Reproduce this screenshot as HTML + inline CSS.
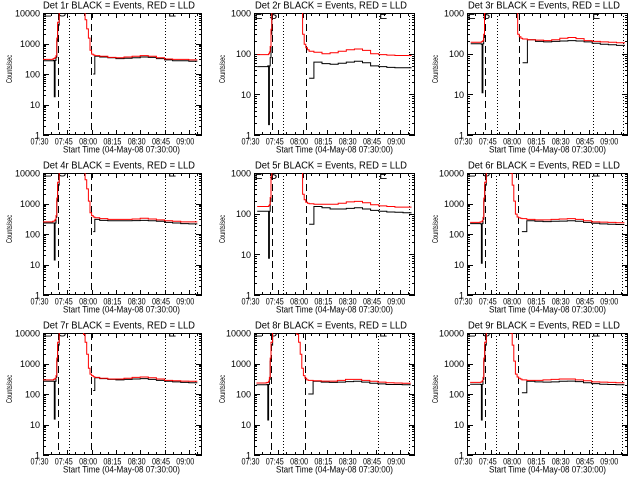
<!DOCTYPE html>
<html><head><meta charset="utf-8"><title>Detector rates</title>
<style>
html,body{margin:0;padding:0;background:#fff;}
svg{display:block;font-family:"Liberation Sans",sans-serif;}
</style></head>
<body>
<svg id="fig" width="640" height="480" viewBox="0 0 640 480" xmlns="http://www.w3.org/2000/svg">
<rect x="0" y="0" width="640" height="480" fill="#fff"/>
</svg>
<script>
// ---- data ----
const times = [0,3,6,6.5,7,7.5,8,8.5,9,10,23,24,25,26,27,28,29,30,31,32,35,40,45,50,55,60,65,70,75,80,85,90,94];
const detNames = ["1r","2r","3r","4r","5r","6r","7r","8r","9r"];
const timeShift = [0,2,2.3,0,2,1.9,0,1.5,1.9];
const yMaxes = [10000,1000,1000,10000,1000,10000,10000,10000,10000];
const xTickLabels = ["07:30","07:45","08:00","08:15","08:30","08:45","09:00"];
const xTickMinutes = [0,15,30,45,60,75,90];
const dashedTimes = [9,29.8];
const dottedTimes = [16.2,75.3,93.9];
const markerLabels = ["E","S","E"];
const markerTimes = [0.3,9.4,77.2];
const _ = null;
const red1 = [300,300,310,320,330,350,400,1500,5000,20000,20000,20000,12000,6000,3000,1500,600,450,420,400,380,350,340,360,380,400,380,340,310,300,300,290,290];
const black1 = [270,270,270,280,18,280,350,1200,4000,20000,_,_,_,_,_,_,_,_,100,380,360,340,320,330,340,360,350,320,290,270,270,260,260];
const red2 = [95,95,95,95,100,110,150,400,1500,5000,5000,5000,5000,5000,5000,300,170,140,125,115,108,100,105,115,125,130,120,100,95,92,90,90,90];
const black2 = [48,48,48,50,1.8,50,80,300,1000,5000,_,_,_,_,_,_,_,_,_,25,62,57,55,58,62,65,60,50,48,46,45,45,45];
const red3 = [190,190,190,195,200,210,300,1000,3000,5000,5000,5000,5000,5000,5000,5000,300,260,240,230,220,215,210,220,240,250,235,210,200,195,190,185,185];
const black3 = [175,175,175,170,11,175,250,800,3000,5000,_,_,_,_,_,_,_,_,_,60,220,200,195,200,205,210,205,195,180,170,165,160,160];
const red4 = [250,250,260,260,270,300,400,1500,5000,20000,20000,20000,12000,6000,3000,1200,500,400,360,340,320,300,300,300,310,330,310,290,270,260,250,250,250];
const black4 = [230,230,230,230,14,230,350,1200,4000,20000,_,_,_,_,_,_,_,_,120,300,280,270,270,270,275,280,270,260,240,230,220,215,215];
const red5 = [150,150,150,150,155,165,250,800,3000,5000,5000,5000,5000,5000,5000,300,220,190,180,175,170,170,170,180,195,200,185,165,155,150,145,145,145];
const black5 = [115,115,115,115,8,115,200,700,3000,5000,_,_,_,_,_,_,_,_,_,55,150,140,130,130,135,140,130,120,115,110,108,105,105];
const red6 = [240,240,245,250,250,270,350,1500,5000,20000,20000,20000,10000,4000,1200,450,360,340,330,320,300,290,290,300,310,320,300,270,250,245,240,235,235];
const black6 = [220,220,220,215,11,220,300,1200,4000,20000,_,_,_,_,_,_,_,_,_,120,270,260,255,260,265,270,260,240,225,215,210,205,205];
const red7 = [290,290,290,300,310,330,400,1500,5000,20000,20000,15000,9000,5000,2000,700,450,400,370,350,330,310,310,330,350,360,340,310,280,270,265,260,260];
const black7 = [260,260,260,260,15,260,350,1200,4000,20000,_,_,_,_,_,_,_,_,130,340,320,300,290,300,310,320,300,280,260,250,240,235,235];
const red8 = [230,230,235,240,240,260,350,1500,5000,20000,20000,15000,9000,5000,2000,700,400,330,290,280,270,265,265,280,300,300,280,260,245,235,230,225,225];
const black8 = [200,200,200,205,14,205,300,1200,4000,20000,_,_,_,_,_,_,_,_,_,100,260,245,240,245,255,260,245,225,215,205,205,200,200];
const red9 = [240,240,240,245,250,270,350,1500,5000,20000,20000,20000,10000,4000,1200,450,360,330,310,290,280,280,290,300,310,310,290,270,250,245,240,235,235];
const black9 = [210,210,210,205,14,210,300,1200,4000,20000,_,_,_,_,_,_,_,_,_,110,260,250,245,250,260,265,255,235,220,210,205,200,200];
const redSeries = [red1,red2,red3,red4,red5,red6,red7,red8,red9];
const blackSeries = [black1,black2,black3,black4,black5,black6,black7,black8,black9];

const NS = "http://www.w3.org/2000/svg";
const svg = document.getElementById('fig');
function mk(tag, attrs, parent){
  const el = document.createElementNS(NS, tag);
  for (const k in attrs) el.setAttribute(k, attrs[k]);
  parent.appendChild(el);
  return el;
}
const PXMIN = 24.3/15;
const TOP = 13, BOT = 135, RIGHT = 202;

for (let p = 0; p < 9; p++) {
  const col = p % 3, row = Math.floor(p / 3);
  const ox = col * 213, oy = row * 160;
  const L = col === 0 ? 43 : 41;
  const ymax = yMaxes[p];
  const dec = Math.log10(ymax);
  const xs = t => L + (t + timeShift[p]) * PXMIN;
  const xa = m => L + m * PXMIN;
  const ys = v => BOT - Math.log10(v) / dec * (BOT - TOP);

  const g = mk('g', {transform: `translate(${ox},${oy})`}, svg);
  
  

  const cp = mk('clipPath', {id: 'clip' + p}, g);
  mk('rect', {x: L, y: TOP, width: RIGHT - L, height: BOT - TOP}, cp);

  const title = mk('text', {x: (L + 195) / 2, y: 8.5, 'font-size': 10, 'text-anchor': 'middle', textLength: 152, lengthAdjust: 'spacingAndGlyphs'}, g);
  title.textContent = 'Det ' + detNames[p] + ' BLACK = Events, RED = LLD';
  
  

  const yt = mk('text', {x: 0, y: 0, 'font-size': 8, 'text-anchor': 'middle', transform: `translate(12,69) rotate(-90)`, textLength: 28, lengthAdjust: 'spacingAndGlyphs'}, g);
  yt.textContent = 'Counts/sec';
  
  

  const xt = mk('text', {x: 121.5, y: 152.5, 'font-size': 9.5, 'text-anchor': 'middle', textLength: 117, lengthAdjust: 'spacingAndGlyphs'}, g);
  xt.textContent = 'Start Time (04-May-08 07:30:00)';
  
  

  const frame = mk('rect', {x: L + 0.5, y: TOP + 0.5, width: RIGHT - L - 1, height: BOT - TOP - 1, fill: 'none', stroke: '#000', 'stroke-width': 1, 'shape-rendering': 'crispEdges'}, g);
  
  

  let tk = '';
  for (let d = 0; d <= dec; d++) {
    const v = Math.pow(10, d);
    const y = Math.round(ys(v)) + 0.5;
    tk += `M${L} ${y}h6M${RIGHT} ${y}h-6`;
    const lab = mk('text', {x: L - 3, y: ys(v) + 3.5, 'font-size': 9, 'text-anchor': 'end'}, g);
    lab.textContent = String(v);
    
    
    if (d < dec) for (let m = 2; m <= 9; m++) {
      const ym = Math.round(ys(v * m)) + 0.5;
      tk += `M${L} ${ym}h3M${RIGHT} ${ym}h-3`;
    }
  }
  for (let i = 0; i < xTickMinutes.length; i++) {
    const x = Math.round(xa(xTickMinutes[i])) + 0.5;
    tk += `M${x} ${BOT}v-5M${x} ${TOP}v5`;
    const lab = mk('text', {x: xa(xTickMinutes[i]) - 3.5, y: 144.5, 'font-size': 9, 'text-anchor': 'middle', textLength: 18, lengthAdjust: 'spacingAndGlyphs'}, g);
    lab.textContent = xTickLabels[i];
    
    
  }
  for (let m = 5; m < 97; m += 5) {
    if (m % 15 === 0) continue;
    const x = Math.round(xa(m)) + 0.5;
    if (x >= RIGHT) break;
    tk += `M${x} ${BOT}v-3M${x} ${TOP}v3`;
  }
  const ticks = mk('path', {d: tk, stroke: '#000', 'stroke-width': 1, fill: 'none'}, g);
  
  

  const inner = mk('g', {'clip-path': `url(#clip${p})`}, g);

  dashedTimes.forEach(t => {
    const x = Math.round(xs(t)) + 0.5;
    const ln = mk('line', {x1: x, x2: x, y1: TOP, y2: BOT, stroke: '#000', 'stroke-width': 1, 'stroke-dasharray': '7,4', 'shape-rendering': 'crispEdges'}, inner);
    
    
  });
  dottedTimes.forEach(t => {
    const x = Math.round(xs(t)) + 0.5;
    const ln = mk('line', {x1: x, x2: x, y1: TOP, y2: BOT, stroke: '#000', 'stroke-width': 1, 'stroke-dasharray': '1,2', 'shape-rendering': 'crispEdges'}, inner);
    
    
  });
  const mBase = ymax === 10000 ? 16.7 : 19;
  markerLabels.forEach((s, i) => {
    const tx = mk('text', {x: xs(markerTimes[i]) - timeShift[p] * PXMIN, y: mBase, 'font-size': 12}, inner);
    tx.textContent = s;
    
    
  });

  function stepPath(vals) {
    let d = '', open = false;
    for (let i = 0; i < times.length; i++) {
      const v = vals[i];
      if (v == null) { open = false; continue; }
      const x = xs(times[i]).toFixed(1), y = ys(v).toFixed(1);
      if (!open) { d += `M${x} ${y}`; open = true; }
      else d += `V${y}`;
      const nx = i + 1 < times.length ? xs(times[i + 1]) : xs(times[i]) + 2;
      if (i + 1 < times.length && vals[i + 1] != null) d += `H${nx.toFixed(1)}`;
      else if (i + 1 >= times.length) d += `H${nx.toFixed(1)}`;
    }
    return d;
  }
  const bl = mk('path', {d: stepPath(blackSeries[p]), stroke: '#000', 'stroke-width': 1, fill: 'none'}, inner);
  
  
  const rd = mk('path', {d: stepPath(redSeries[p]), stroke: '#ff0000', 'stroke-width': 1, fill: 'none'}, inner);
  
  
}
</script>
</body></html>
